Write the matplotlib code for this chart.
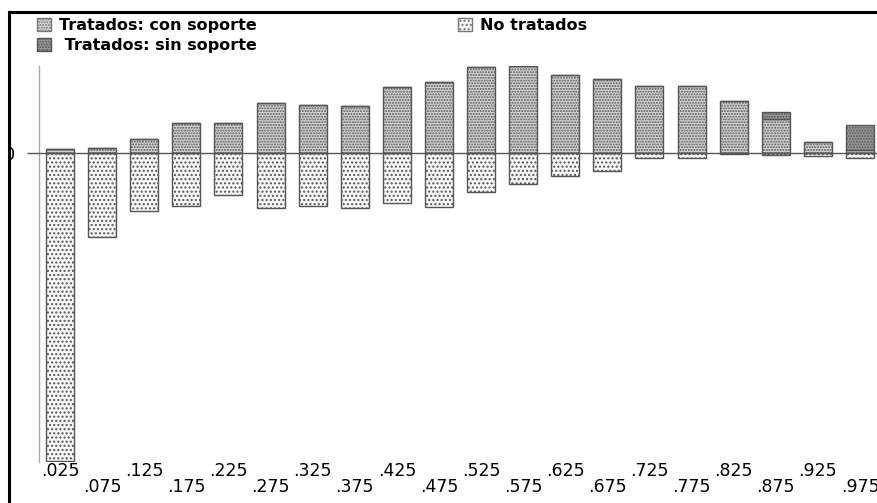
import matplotlib
matplotlib.use("Agg")
import matplotlib.pyplot as plt
from matplotlib.patches import Patch, Rectangle
from matplotlib.lines import Line2D
import numpy as np

plt.rcParams["font.family"] = ["DejaVu Sans"]
plt.rcParams["hatch.linewidth"] = 1.0

# propensity score bins (centres) and bar heights
bins = [.025, .075, .125, .175, .225, .275, .325, .375, .425, .475,
        .525, .575, .625, .675, .725, .775, .825, .875, .925, .975]
labels = [".025", ".075", ".125", ".175", ".225", ".275", ".325", ".375", ".425", ".475",
          ".525", ".575", ".625", ".675", ".725", ".775", ".825", ".875", ".925", ".975"]
treated_on = [4, 5, 14, 30, 30, 50, 48, 47, 66, 71, 86, 87, 78, 74, 67, 67, 52, 34, 11, 3]
treated_off = [0, 0, 0, 0, 0, 0, 0, 0, 0, 0, 0, 0, 0, 0, 0, 0, 0, 7, 0, 25]
untreated = [309, 84, 58, 53, 42, 55, 53, 55, 50, 54, 39, 31, 23, 18, 5, 5, 1, 2, 3, 5]

W, H = 878, 503
fig = plt.figure(figsize=(W / 100, H / 100), dpi=100)

# axes: x=0 sits at px 39, one unit of x is 842 px
left_px, top_px, bot_px = 39, 66, 462
ax = fig.add_axes([left_px / W, 1 - bot_px / H, (W - left_px) / W, (bot_px - top_px) / H])
ax.set_xlim(0, (W - left_px) / 842)
ax.set_ylim(-310, 87)

x = np.array(bins)
bw = 0.0333
edge = "#555555"
plt.rcParams["hatch.color"] = "#a0a0a0"
ax.bar(x, treated_on, width=bw, color="#d6d6d6", edgecolor=edge, linewidth=1,
       hatch="......", zorder=2)
plt.rcParams["hatch.color"] = "#6e6e6e"
ax.bar(x, treated_off, width=bw, bottom=treated_on, color="#9c9c9c", edgecolor=edge,
       linewidth=1, hatch="......", zorder=2)
plt.rcParams["hatch.color"] = "#cbcbcb"
ax.bar(x, -np.array(untreated), width=bw, color="#f7f7f7", edgecolor=edge, linewidth=1,
       hatch="....", zorder=2)

ax.axhline(0, color="#555555", linewidth=1, zorder=3)

for s in ["top", "right", "bottom"]:
    ax.spines[s].set_visible(False)
ax.spines["left"].set_color("#a8a8a8")
ax.spines["left"].set_linewidth(1)

ax.set_yticks([0])
ax.set_yticklabels(["0"], fontsize=13)
ax.tick_params(axis="y", length=9, width=1, color="#555555", pad=8)

ax.set_xticks(bins)
ax.set_xticklabels(labels, fontsize=12.5)
ax.tick_params(axis="x", length=0)
for i, t in enumerate(ax.xaxis.get_major_ticks()):
    t.set_pad(0 if i % 2 == 0 else 11.5)

# legends
plt.rcParams["hatch.color"] = "#a0a0a0"
h_on = Patch(facecolor="#d6d6d6", edgecolor="#777777", hatch="......")
h_off = Patch(facecolor="#9c9c9c", edgecolor="#555555", hatch="......")
h_un = Patch(facecolor="#f7f7f7", edgecolor="#777777", hatch="....")
leg_kw = dict(frameon=False, prop={"weight": "bold", "size": 11.5}, handlelength=0.85,
              handleheight=0.85, handletextpad=0.55, labelspacing=0.3, borderaxespad=0,
              borderpad=0, loc="upper left")
fig.legend([h_on, h_off], ["Tratados: con soporte", " Tratados: sin soporte"],
           bbox_to_anchor=(37 / W, 1 - 18 / H), **leg_kw)
fig.legend([h_un], ["No tratados"], bbox_to_anchor=(458 / W, 1 - 18 / H), **leg_kw)

# cropped frame of the original export
fig.add_artist(Rectangle((0, 0), 8 / W, 1, transform=fig.transFigure,
                         facecolor="white", edgecolor="none", zorder=10))
fig.add_artist(Line2D([9 / W, 9 / W], [0, 1 - 12 / H], transform=fig.transFigure,
                      color="black", linewidth=2.2, zorder=11))
fig.add_artist(Line2D([9 / W, 1], [1 - 12 / H, 1 - 12 / H], transform=fig.transFigure,
                      color="black", linewidth=2.2, zorder=11))

fig.savefig("out.png", dpi=100)
